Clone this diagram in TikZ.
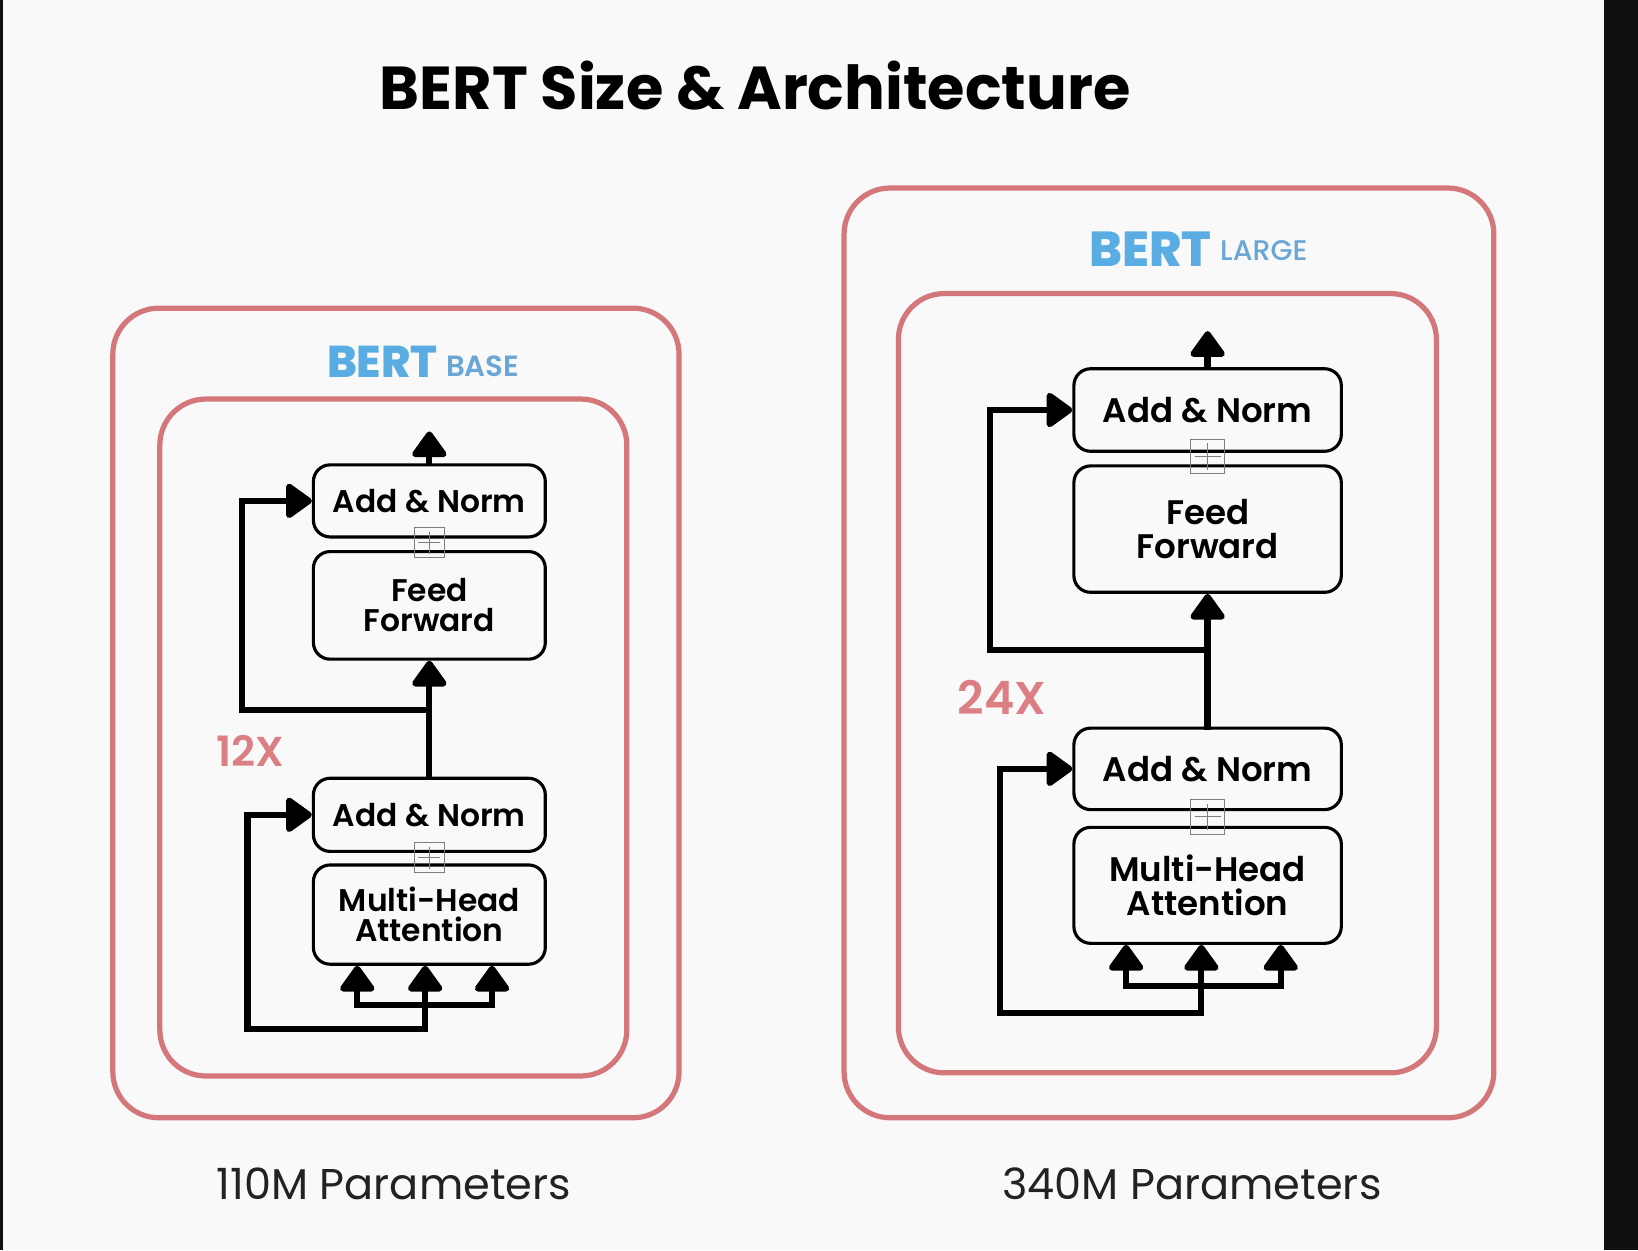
\documentclass[tikz,border=0pt]{standalone}
\usepackage{fontspec}
\setmainfont{Poppins}
\newfontfamily\popsemi{Poppins}[UprightFont=* SemiBold]
\newfontfamily\popxbold{Poppins}[UprightFont=* ExtraBold]
\newfontfamily\popmedium{Poppins}[UprightFont=* Medium]
\usetikzlibrary{arrows.meta,calc}

\definecolor{pagebg}{HTML}{F9F9F9}
\definecolor{framered}{HTML}{D4777B}
\definecolor{bertblue}{HTML}{5AADE2}
\definecolor{subblue}{HTML}{6BA7D6}
\definecolor{repred}{HTML}{DC7F84}
\definecolor{paramtext}{HTML}{222222}
\definecolor{edgedark}{HTML}{101010}
\definecolor{plusgray}{HTML}{7E7E7E}

\newcommand{\setfs}[2]{\fontsize{#1}{#2}\selectfont}

\tikzset{
  framebox/.style={draw=framered, line width=2.5pt, rounded corners=22pt},
  blockL/.style={draw=black, line width=1.5pt, rounded corners=8pt, fill=pagebg,
    align=center, inner sep=0pt, font=\popsemi\setfs{15}{14.5}},
  blockR/.style={draw=black, line width=1.5pt, rounded corners=8pt, fill=pagebg,
    align=center, inner sep=0pt, font=\popsemi\setfs{16.3}{16.5}},
  conn/.style={draw=black, line width=3pt, line cap=rect, line join=miter},
  arr/.style={conn, -{Triangle[width=18.5pt,length=13.5pt,round]}},
  plusbox/.style={draw=plusgray, line width=0.5pt, inner sep=0pt,
    path picture={
      \draw[plusgray, line width=0.5pt]
        ([yshift=-2pt]path picture bounding box.north) -- ([yshift=2pt]path picture bounding box.south)
        ([xshift=2pt]path picture bounding box.west) -- ([xshift=-2pt]path picture bounding box.east);
    }},
  bertname/.style={anchor=base west, text=bertblue},
  bertsub/.style={anchor=base west, text=subblue},
  repeat/.style={anchor=base, text=repred},
  params/.style={anchor=base, text=paramtext},
}

\begin{document}
\begin{tikzpicture}[x=0.5pt, y=-0.5pt]
  % page
  \fill[pagebg] (0,0) rectangle (1568,1197);
  \useasboundingbox (0,0) rectangle (1568,1197);
  \fill[edgedark] (0,0) rectangle (3,1197);
  \fill[edgedark] (1535,0) rectangle (1568,1197);

  % title
  \node[anchor=base, font=\bfseries\setfs{29}{30}] (title) at (723,105) {BERT Size \& Architecture};

  % ---------------- BERT base ----------------
  \draw[framebox] (108,295) rectangle (650,1070);
  \draw[framebox] (153,382) rectangle (600,1030);
  \node[bertname, font=\popxbold\setfs{21.3}{21}] (bbname) at (306,361) {BERT};
  \node[bertsub, font=\popsemi\setfs{14}{14}] (bbsub) at (420,360) {BASE};
  \node[repeat, font=\popsemi\setfs{20}{20}] (rep12) at (240,734) {12X};
  \node[params, font=\setfs{20.6}{20}] (pbase) at (377,1148) {110M Parameters};

  \coordinate (outL) at (411,413);
  \coordinate (jL) at (411,680);
  \coordinate (rL) at (232,680);
  \coordinate (stemL) at (407,985);
  \coordinate (b1L) at (342,962);
  \coordinate (b3L) at (471,962);
  \coordinate (retL) at (237,985);

  \node[blockL, minimum width=111pt, minimum height=34.5pt] (anTL) at (411,479.5) {Add \& Norm};
  \node[blockL, minimum width=111pt, minimum height=51.5pt] (ffL) at (411,579.5) {Feed\\Forward};
  \node[blockL, minimum width=111pt, minimum height=35pt] (anBL) at (411,780) {Add \& Norm};
  \node[blockL, minimum width=111pt, minimum height=47.5pt] (mhaL) at (411,875.5) {Multi-Head\\Attention};

  \draw[arr] (anTL.north) -- (outL);
  \draw[arr] (anBL.north) -- (ffL.south);
  \draw[arr] (jL) -- (rL) |- (anTL.west);
  \draw[conn] (b1L) -- (b3L);
  \draw[arr] (stemL) -- (stemL |- mhaL.south);
  \draw[arr] (b1L) -- (b1L |- mhaL.south);
  \draw[arr] (b3L) -- (b3L |- mhaL.south);
  \draw[arr] (stemL) -- (retL) |- (anBL.west);

  \node[plusbox, minimum size=14.5pt] (pmTL) at (411,519.5) {};
  \node[plusbox, minimum size=14.5pt] (pmBL) at (411,821) {};

  % ---------------- BERT large ----------------
  \draw[framebox] (808,180) rectangle (1430,1070);
  \draw[framebox] (860,281) rectangle (1375,1027);
  \node[bertname, font=\popxbold\setfs{23.5}{23}] (blname) at (1036,255) {BERT};
  \node[bertsub, font=\popmedium\setfs{13.6}{14}] (blsub) at (1161,249) {LARGE};
  \node[repeat, font=\popsemi\setfs{22}{22}] (rep24) at (959,684) {24X};
  \node[params, font=\setfs{20.6}{20}] (plarge) at (1141,1148) {340M Parameters};

  \coordinate (outR) at (1156,317);
  \coordinate (jR) at (1156,622);
  \coordinate (rR) at (948,622);
  \coordinate (stemR) at (1150,970);
  \coordinate (b1R) at (1078,944);
  \coordinate (b3R) at (1226,944);
  \coordinate (retR) at (957,970);

  \node[blockR, minimum width=128pt, minimum height=39.5pt] (anTR) at (1156,392.5) {Add \& Norm};
  \node[blockR, minimum width=128pt, minimum height=60.5pt] (ffR) at (1156,506.5) {Feed\\Forward};
  \node[blockR, minimum width=128pt, minimum height=39pt] (anBR) at (1156,736) {Add \& Norm};
  \node[blockR, minimum width=128pt, minimum height=55.5pt] (mhaR) at (1156,847.5) {Multi-Head\\Attention};

  \draw[arr] (anTR.north) -- (outR);
  \draw[arr] (anBR.north) -- (ffR.south);
  \draw[arr] (jR) -- (rR) |- (anTR.west);
  \draw[conn] (b1R) -- (b3R);
  \draw[arr] (stemR) -- (stemR |- mhaR.south);
  \draw[arr] (b1R) -- (b1R |- mhaR.south);
  \draw[arr] (b3R) -- (b3R |- mhaR.south);
  \draw[arr] (stemR) -- (retR) |- (anBR.west);

  \node[plusbox, minimum size=16.5pt] (pmTR) at (1156,437) {};
  \node[plusbox, minimum size=16.5pt] (pmBR) at (1156,782) {};
\end{tikzpicture}
\end{document}
